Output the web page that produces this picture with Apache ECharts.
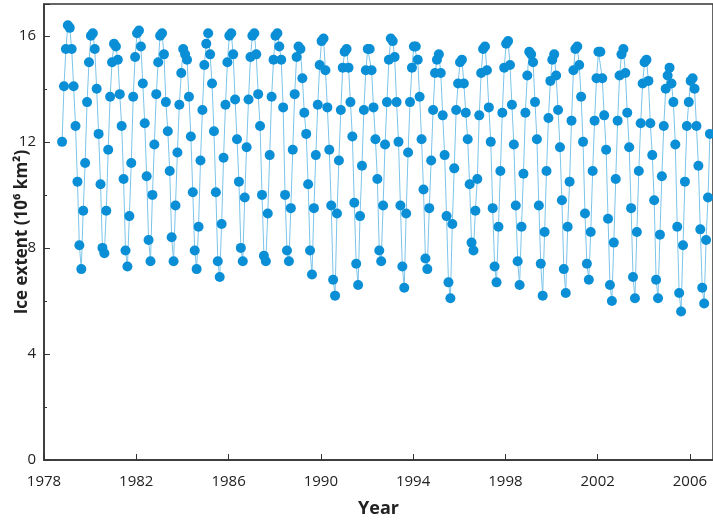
<!DOCTYPE html>
<html><head><meta charset="utf-8">
<script src="https://cdn.jsdelivr.net/npm/echarts@6/dist/echarts.min.js"></script>
<style>html,body{margin:0;padding:0;background:#fff}#c{width:713px;height:521px}</style>
</head><body><div id="c"></div>
<script>
var startYear = 1978, startMonth = 10; // Nov 1978 (0 = Jan)
var yTitle = 'Ice extent (10\u2076 km\u00b2)';
var y1978 = [12.0,14.1];
var y1979 = [15.5,16.4,16.3,15.5,14.1,12.6,10.5,8.1,7.2,9.4,11.2,13.5];
var y1980 = [15.0,16.0,16.1,15.5,14.0,12.3,10.4,8.0,7.8,9.4,11.7,13.7];
var y1981 = [15.0,15.7,15.6,15.1,13.8,12.6,10.6,7.9,7.3,9.2,11.2,13.7];
var y1982 = [15.2,16.1,16.2,15.6,14.2,12.7,10.7,8.3,7.5,10.0,11.9,13.8];
var y1983 = [15.0,16.0,16.1,15.3,13.5,12.4,10.9,8.4,7.5,9.6,11.6,13.4];
var y1984 = [14.6,15.5,15.3,15.1,13.7,12.2,10.1,7.9,7.2,8.8,11.3,13.2];
var y1985 = [14.9,15.7,16.1,15.3,14.2,12.4,10.1,7.5,6.9,8.9,11.4,13.4];
var y1986 = [15.0,16.0,16.1,15.3,13.6,12.1,10.5,8.0,7.5,9.9,11.8,13.6];
var y1987 = [15.2,16.0,16.1,15.3,13.8,12.6,10.0,7.7,7.5,9.3,11.5,13.7];
var y1988 = [15.1,16.0,16.1,15.6,15.1,13.3,10.0,7.9,7.5,9.5,11.7,13.8];
var y1989 = [15.2,15.6,15.5,14.4,13.1,12.3,10.4,7.9,7.0,9.5,11.5,13.4];
var y1990 = [14.9,15.8,15.9,14.7,13.3,11.7,9.6,6.8,6.2,9.3,11.3,13.2];
var y1991 = [14.8,15.4,15.5,14.8,13.5,12.2,9.7,7.4,6.6,9.2,11.1,13.2];
var y1992 = [14.7,15.5,15.5,14.7,13.3,12.1,10.6,7.9,7.5,9.6,11.9,13.5];
var y1993 = [15.1,15.9,15.8,15.2,13.5,12.0,9.6,7.3,6.5,9.3,11.6,13.5];
var y1994 = [14.8,15.6,15.6,15.1,13.7,12.1,10.2,7.6,7.2,9.5,11.3,13.2];
var y1995 = [14.6,15.1,15.3,14.6,13.0,11.5,9.2,6.7,6.1,8.9,11.0,13.2];
var y1996 = [14.2,15.0,15.1,14.2,13.1,12.1,10.4,8.2,7.9,9.4,10.6,13.0];
var y1997 = [14.6,15.5,15.6,14.7,13.3,12.0,9.5,7.3,6.7,8.8,10.9,13.1];
var y1998 = [14.8,15.7,15.8,14.9,13.4,11.9,9.6,7.5,6.6,8.8,10.8,13.1];
var y1999 = [14.5,15.4,15.3,15.0,13.5,12.1,9.6,7.4,6.2,8.6,10.9,12.9];
var y2000 = [14.3,15.1,15.3,14.5,13.2,11.8,9.8,7.2,6.3,8.8,10.5,12.8];
var y2001 = [14.7,15.5,15.6,14.9,13.7,12.0,9.3,7.4,6.8,8.6,10.9,12.8];
var y2002 = [14.4,15.4,15.4,14.4,13.0,11.7,9.1,6.6,6.0,8.2,10.6,12.8];
var y2003 = [14.5,15.3,15.5,14.6,13.1,11.8,9.5,6.9,6.1,8.6,10.9,12.7];
var y2004 = [14.2,15.0,15.1,14.3,12.7,11.5,9.8,6.8,6.1,8.5,10.7,12.6];
var y2005 = [14.0,14.5,14.8,14.2,13.5,11.9,8.8,6.3,5.6,8.1,10.5,12.6];
var y2006 = [13.5,14.3,14.4,14.0,12.6,11.1,8.7,6.5,5.9,8.3,9.9,12.3];
var years = [y1978,y1979,y1980,y1981,y1982,y1983,y1984,y1985,y1986,y1987,y1988,y1989,y1990,y1991,y1992,y1993,y1994,y1995,y1996,y1997,y1998,y1999,y2000,y2001,y2002,y2003,y2004,y2005,y2006];
var data = [];
years.forEach(function(arr, i){
  var y = startYear + i;
  var m0 = i === 0 ? startMonth : 0;
  arr.forEach(function(v, j){ data.push([y + (m0 + j) / 12 - 0.05, v]); });
});
var chart = echarts.init(document.getElementById('c'));
chart.setOption({
  animation:false,
  grid:{left:44,right:0,top:4,bottom:61,containLabel:false,outerBoundsMode:'none',
    show:true,borderColor:'#333',borderWidth:1.5,backgroundColor:'transparent'},
  graphic:[{type:'text',x:22,y:232,rotation:Math.PI/2,
    style:{text:yTitle,fontFamily:'Open Sans',fontWeight:'bold',fontSize:17,fill:'#222',
      align:'center',verticalAlign:'middle'}}],
  xAxis:{type:'value',min:1978,max:2007,interval:4,
    name:'Year',nameLocation:'middle',nameGap:40,
    nameTextStyle:{fontFamily:'Open Sans',fontWeight:'bold',fontSize:18,color:'#222'},
    axisLine:{show:true,lineStyle:{color:'#333',width:1.5}},
    axisTick:{show:true,inside:true,length:6,lineStyle:{color:'#333'}},
    axisLabel:{fontFamily:'Open Sans',fontSize:15,color:'#222',margin:14,
      formatter:function(v){return String(v);}},
    splitLine:{show:false}},
  yAxis:{type:'value',min:0,max:17.2,interval:4,
    axisLine:{show:true,lineStyle:{color:'#333',width:1.5}},
    axisTick:{show:true,inside:true,length:6,lineStyle:{color:'#333'}},
    minorTick:{show:true,splitNumber:2,length:3,lineStyle:{color:'#333'}},
    axisLabel:{fontFamily:'Open Sans',fontSize:15,color:'#222',margin:8,
      formatter:function(v){return v%4===0?String(v):'';}},
    splitLine:{show:false}},
  series:[{type:'line',data:data,symbol:'circle',symbolSize:10,
    itemStyle:{color:'#0a8fd6'},lineStyle:{color:'#7cc4ea',width:1}}]
});
</script></body></html>
